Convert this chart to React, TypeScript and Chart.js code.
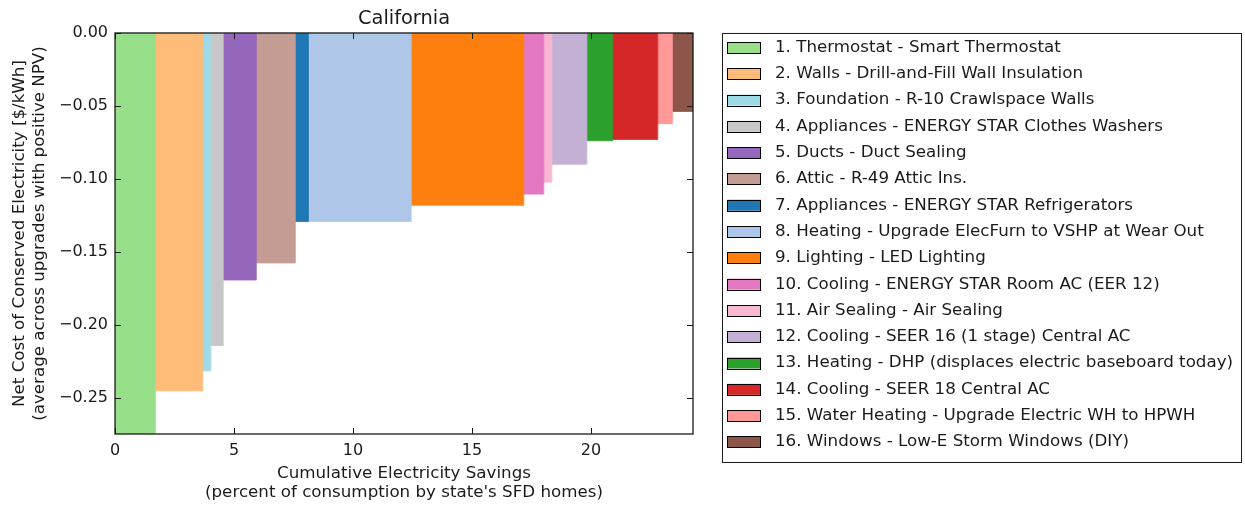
import React, { useEffect, useRef } from 'react';
import { Chart, registerables } from 'chart.js';

Chart.register(...registerables);

const measures = [
  '1. Thermostat - Smart Thermostat',
  '2. Walls - Drill-and-Fill Wall Insulation',
  '3. Foundation - R-10 Crawlspace Walls',
  '4. Appliances - ENERGY STAR Clothes Washers',
  '5. Ducts - Duct Sealing',
  '6. Attic - R-49 Attic Ins.',
  '7. Appliances - ENERGY STAR Refrigerators',
  '8. Heating - Upgrade ElecFurn to VSHP at Wear Out',
  '9. Lighting - LED Lighting',
  '10. Cooling - ENERGY STAR Room AC (EER 12)',
  '11. Air Sealing - Air Sealing',
  '12. Cooling - SEER 16 (1 stage) Central AC',
  '13. Heating - DHP (displaces electric baseboard today)',
  '14. Cooling - SEER 18 Central AC',
  '15. Water Heating - Upgrade Electric WH to HPWH',
  '16. Windows - Low-E Storm Windows (DIY)',
];

// savings: percent of consumption (bar widths)
const savings = [1.70, 1.99, 0.34, 0.52, 1.39, 1.64, 0.55, 4.32, 4.73, 0.84, 0.34, 1.47, 1.09, 1.89, 0.62, 0.86];
// net cost of conserved electricity, $/kWh (bar heights)
const costs = [-0.275, -0.2454, -0.2317, -0.2143, -0.1694, -0.1577, -0.1293, -0.1293, -0.1181, -0.1105, -0.1023, -0.0900, -0.0739, -0.0730, -0.0622, -0.0538];

const colors = [
  '#98df8a', '#ffbb78', '#9edae5', '#c7c7c7', '#9467bd', '#c49c94', '#1f77b4', '#aec7e8',
  '#ff7f0e', '#e377c2', '#f7b6d2', '#c5b0d5', '#2ca02c', '#d62728', '#ff9896', '#8c564b',
];

const xTicks = [0, 5, 10, 15, 20];
const yTicks = [0, -0.05, -0.1, -0.15, -0.2, -0.25];
const yMin = -0.275;

const chartTitle = 'California';
const xTitle = ['Cumulative Electricity Savings', "(percent of consumption by state's SFD homes)"];
const yTitle = ['Net Cost of Conserved Electricity [$/kWh]', '(average across upgrades with positive NPV)'];

const FONT = '"DejaVu Sans", sans-serif';
const TEXT = '#1a1a1a';

const framePlugin = {
  id: 'frameTicks',
  afterDatasetsDraw(chart: any) {
    const { ctx, chartArea: a, scales } = chart;
    ctx.save();
    ctx.strokeStyle = '#1a1a1a';
    ctx.lineWidth = 1;
    const tl = 6;
    ctx.beginPath();
    scales.x.ticks.forEach((t: any) => {
      const px = Math.round(scales.x.getPixelForValue(t.value)) + 0.5;
      ctx.moveTo(px, a.bottom);
      ctx.lineTo(px, a.bottom - tl);
      ctx.moveTo(px, a.top);
      ctx.lineTo(px, a.top + tl);
    });
    scales.y.ticks.forEach((t: any) => {
      const py = Math.round(scales.y.getPixelForValue(t.value)) + 0.5;
      ctx.moveTo(a.left, py);
      ctx.lineTo(a.left + tl, py);
      ctx.moveTo(a.right, py);
      ctx.lineTo(a.right - tl, py);
    });
    ctx.stroke();
    ctx.lineWidth = 1.3;
    ctx.strokeRect(a.left, a.top, a.right - a.left, a.bottom - a.top);
    ctx.restore();
  },
};

const legendPlugin = {
  id: 'boxLegend',
  afterDraw(chart: any) {
    const { ctx, chartArea: a } = chart;
    const left = a.right + 29;
    const top = a.top;
    const right = 1241;
    const bottom = 462;
    ctx.save();
    ctx.fillStyle = '#ffffff';
    ctx.fillRect(left, top, right - left, bottom - top);
    ctx.strokeStyle = '#1a1a1a';
    ctx.lineWidth = 1;
    ctx.strokeRect(left + 0.5, top + 0.5, right - left, bottom - top);
    ctx.font = `16.7px ${FONT}`;
    ctx.textBaseline = 'middle';
    ctx.textAlign = 'left';
    chart.data.datasets.forEach((ds: any, i: number) => {
      const cy = top + 14.5 + i * 26.3;
      const sx = left + 5;
      ctx.fillStyle = ds.backgroundColor;
      ctx.fillRect(sx, cy - 5.5, 34, 11);
      ctx.strokeStyle = '#000';
      ctx.lineWidth = 1;
      ctx.strokeRect(sx + 0.5, Math.round(cy - 5.5) + 0.5, 33, 11);
      ctx.fillStyle = TEXT;
      ctx.fillText(ds.label, left + 53, cy);
    });
    ctx.restore();
  },
};

export default function App() {
  const ref = useRef<HTMLCanvasElement | null>(null);

  useEffect(() => {
    if (!ref.current) return;
    let start = 0;
    const datasets = measures.map((label, i) => {
      const x0 = start;
      const x1 = start + savings[i];
      start = x1;
      return {
        label,
        data: [
          { x: x0, y: 0 },
          { x: x0, y: costs[i] },
          { x: x1, y: costs[i] },
          { x: x1, y: 0 },
        ],
        backgroundColor: colors[i],
        borderColor: colors[i],
        borderWidth: 0.8,
        pointRadius: 0,
        pointHoverRadius: 0,
        fill: 'origin',
        tension: 0,
      };
    });
    const xMax = start;

    const chart = new Chart(ref.current, {
      type: 'line',
      data: { datasets },
      options: {
        animation: false,
        responsive: false,
        devicePixelRatio: 1,
        events: [],
        layout: { padding: { top: 0, left: 0, right: 552, bottom: 0 } },
        plugins: {
          legend: { display: false },
          tooltip: { enabled: false },
          title: {
            display: true,
            text: chartTitle,
            fullSize: false,
            color: TEXT,
            font: { family: FONT, size: 19.4, weight: 'normal', lineHeight: 1.2 },
            padding: { top: 7, bottom: 2.7 },
          },
        },
        scales: {
          x: {
            type: 'linear',
            min: 0,
            max: xMax,
            afterBuildTicks: (s: any) => {
              s.ticks = xTicks.map((v) => ({ value: v }));
            },
            afterFit: (s: any) => {
              s.height = 72;
            },
            grid: { display: false, drawTicks: false },
            border: { display: false },
            ticks: {
              autoSkip: false,
              maxRotation: 0,
              padding: 7.7,
              color: TEXT,
              font: { family: FONT, size: 16 },
              callback: (v: any) => String(v),
            },
            title: {
              display: true,
              text: xTitle,
              color: TEXT,
              font: { family: FONT, size: 16.7, lineHeight: 1.15 },
              padding: { top: 0, bottom: 3.5 },
            },
          },
          y: {
            type: 'linear',
            min: yMin,
            max: 0,
            afterBuildTicks: (s: any) => {
              s.ticks = yTicks.map((v) => ({ value: v }));
            },
            afterFit: (s: any) => {
              s.width = 115;
            },
            grid: { display: false, drawTicks: false },
            border: { display: false },
            ticks: {
              autoSkip: false,
              padding: 7,
              color: TEXT,
              font: { family: FONT, size: 16 },
              callback: (v: any) => (Math.abs(v) < 1e-9 ? '0.00' : '\u2212' + Math.abs(v).toFixed(2)),
            },
            title: {
              display: true,
              text: yTitle,
              color: TEXT,
              font: { family: FONT, size: 16.7, lineHeight: 1.2 },
              padding: { top: 10, bottom: 0 },
            },
          },
        },
      },
      plugins: [framePlugin, legendPlugin],
    } as any);

    return () => chart.destroy();
  }, []);

  return (
    <div style={{ position: 'absolute', left: 0, top: 0, width: 1245, height: 506, background: '#fff' }}>
      <canvas ref={ref} width={1245} height={506} style={{ display: 'block' }} />
    </div>
  );
}
